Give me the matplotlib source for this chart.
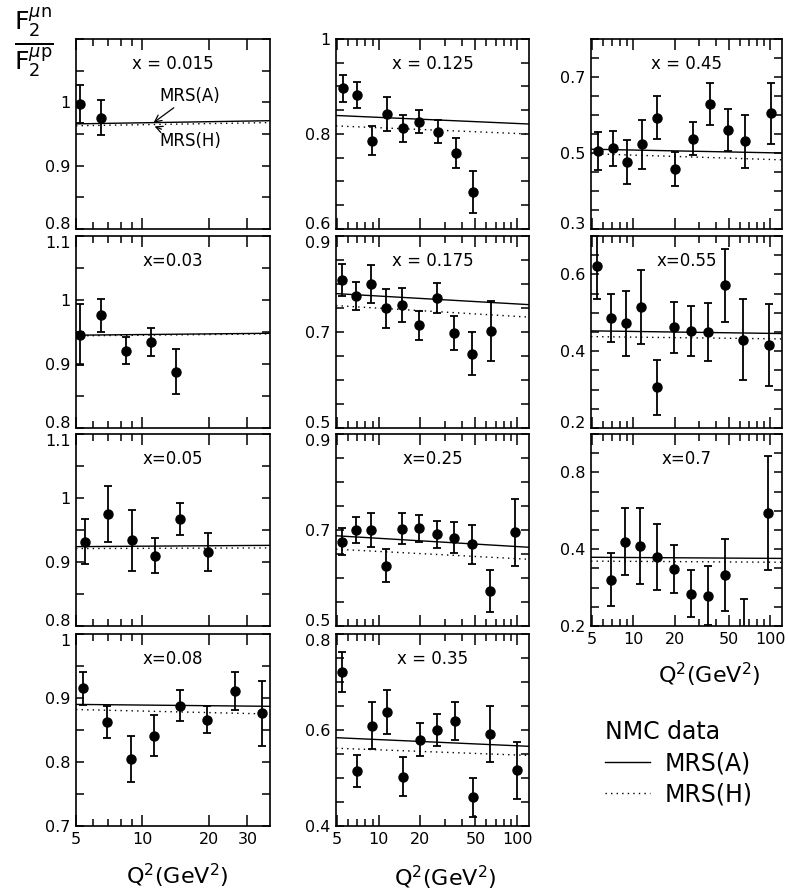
import numpy as np
import matplotlib
matplotlib.use('Agg')
import matplotlib.pyplot as plt
from matplotlib.ticker import NullFormatter, MultipleLocator
from matplotlib.lines import Line2D

# NMC F2n/F2p data, one set of lists per x bin
q2_015 = [5.2, 6.5]
f_015 = [0.997, 0.976]
e_015 = [0.030, 0.027]
a_015 = [0.966, 0.971]
h_015 = [0.963, 0.968]

q2_03 = [5.2, 6.5, 8.4, 10.9, 14.2]
f_03 = [0.946, 0.976, 0.921, 0.934, 0.888]
e_03 = [0.047, 0.026, 0.021, 0.022, 0.035]
a_03 = [0.945, 0.948]
h_03 = [0.944, 0.947]

q2_05 = [5.5, 7.0, 9.0, 11.4, 14.9, 19.8]
f_05 = [0.932, 0.975, 0.934, 0.910, 0.967, 0.916]
e_05 = [0.035, 0.043, 0.048, 0.027, 0.025, 0.030]
a_05 = [0.924, 0.926]
h_05 = [0.921, 0.922]

q2_08 = [5.4, 6.9, 8.9, 11.3, 14.8, 19.6, 26.4, 35.1]
f_08 = [0.915, 0.863, 0.805, 0.841, 0.888, 0.866, 0.911, 0.876]
e_08 = [0.026, 0.025, 0.036, 0.032, 0.024, 0.021, 0.029, 0.051]
a_08 = [0.890, 0.887]
h_08 = [0.882, 0.875]

q2_125 = [5.5, 7.0, 8.9, 11.5, 15.0, 19.5, 27.0, 36.1, 48.2]
f_125 = [0.896, 0.882, 0.786, 0.842, 0.812, 0.826, 0.805, 0.760, 0.678]
e_125 = [0.029, 0.027, 0.031, 0.035, 0.028, 0.024, 0.024, 0.032, 0.044]
a_125 = [0.839, 0.821]
h_125 = [0.817, 0.800]

q2_175 = [5.4, 6.8, 8.8, 11.3, 14.7, 19.5, 26.4, 35.1, 47.4, 64.4]
f_175 = [0.808, 0.775, 0.800, 0.749, 0.756, 0.714, 0.771, 0.698, 0.655, 0.702]
e_175 = [0.033, 0.030, 0.040, 0.041, 0.035, 0.030, 0.032, 0.036, 0.045, 0.063]
a_175 = [0.780, 0.757]
h_175 = [0.755, 0.731]

q2_25 = [5.4, 6.8, 8.8, 11.2, 14.7, 19.4, 26.3, 34.9, 47.1, 63.8, 97.3]
f_25 = [0.676, 0.700, 0.700, 0.626, 0.703, 0.704, 0.691, 0.684, 0.670, 0.573, 0.695]
e_25 = [0.029, 0.027, 0.035, 0.034, 0.032, 0.028, 0.028, 0.032, 0.040, 0.043, 0.069]
a_25 = [0.688, 0.664]
h_25 = [0.660, 0.639]

q2_35 = [5.4, 6.9, 8.9, 11.4, 15.0, 20.0, 26.5, 35.3, 48.4, 64.1, 100.0]
f_35 = [0.721, 0.515, 0.609, 0.637, 0.503, 0.580, 0.600, 0.619, 0.460, 0.591, 0.516]
e_35 = [0.042, 0.033, 0.049, 0.046, 0.040, 0.034, 0.034, 0.040, 0.041, 0.058, 0.060]
a_35 = [0.584, 0.566]
h_35 = [0.562, 0.547]

q2_45 = [5.55, 7.1, 9.0, 11.6, 15.0, 20.1, 27.4, 36.6, 49.0, 65.9, 101.0]
f_45 = [0.506, 0.512, 0.477, 0.523, 0.593, 0.457, 0.538, 0.629, 0.560, 0.531, 0.604]
e_45 = [0.050, 0.045, 0.058, 0.064, 0.056, 0.045, 0.043, 0.054, 0.056, 0.070, 0.080]
a_45 = [0.510, 0.500]
h_45 = [0.498, 0.482]

q2_55 = [5.4, 6.9, 8.9, 11.3, 14.9, 19.7, 26.5, 35.4, 46.7, 63.6, 97.8]
f_55 = [0.621, 0.487, 0.473, 0.516, 0.306, 0.462, 0.453, 0.450, 0.572, 0.430, 0.416]
e_55 = [0.086, 0.063, 0.085, 0.096, 0.071, 0.066, 0.065, 0.075, 0.095, 0.106, 0.107]
a_55 = [0.453, 0.446]
h_55 = [0.438, 0.432]

q2_7 = [6.85, 8.75, 11.2, 14.85, 19.7, 26.3, 35.1, 46.7, 64.5, 97.2]
f_7 = [0.321, 0.420, 0.408, 0.379, 0.349, 0.284, 0.279, 0.332, 0.180, 0.494]
e_7 = [0.069, 0.087, 0.098, 0.086, 0.063, 0.061, 0.077, 0.094, 0.090, 0.148]
a_7 = [0.379, 0.376]
h_7 = [0.369, 0.366]

# y ranges and labelled y ticks
yt_a = [0.8, 0.9, 1.0]
yt_b = [0.8, 0.9, 1.0, 1.1]
yt_c = [0.7, 0.8, 0.9, 1.0]
yl_a = ['0.8', '0.9', '1']
yl_b = ['0.8', '0.9', '1', '1.1']
yl_c = ['0.7', '0.8', '0.9', '1']

# column x axes
xlim_1 = (5, 38)
xlim_2 = (4.9, 122)
xmaj_1 = [5, 10, 20, 30]
xmin_1 = [6, 7, 8, 9]
xmaj_2 = [5, 10, 20, 50, 100]
xmin_2 = [6, 7, 8, 9, 30, 40, 60, 70, 80, 90]

panels = [
    # col, row, label, q2, ratio, err, mrsa, mrsh, ylim, yticks, yticklabels
    (0, 0, 'x = 0.015', q2_015, f_015, e_015, a_015, h_015, (0.8, 1.1), yt_a, yl_a),
    (0, 1, 'x=0.03', q2_03, f_03, e_03, a_03, h_03, (0.8, 1.1), yt_b, yl_b),
    (0, 2, 'x=0.05', q2_05, f_05, e_05, a_05, h_05, (0.8, 1.1), yt_b, yl_b),
    (0, 3, 'x=0.08', q2_08, f_08, e_08, a_08, h_08, (0.7, 1.0), yt_c, yl_c),
    (1, 0, 'x = 0.125', q2_125, f_125, e_125, a_125, h_125, (0.6, 1.0),
     [0.6, 0.8, 1.0], ['0.6', '0.8', '1']),
    (1, 1, 'x = 0.175', q2_175, f_175, e_175, a_175, h_175, (0.5, 0.9),
     [0.5, 0.7, 0.9], ['0.5', '0.7', '0.9']),
    (1, 2, 'x=0.25', q2_25, f_25, e_25, a_25, h_25, (0.5, 0.9),
     [0.5, 0.7, 0.9], ['0.5', '0.7', '0.9']),
    (1, 3, 'x = 0.35', q2_35, f_35, e_35, a_35, h_35, (0.4, 0.8),
     [0.4, 0.6, 0.8], ['0.4', '0.6', '0.8']),
    (2, 0, 'x = 0.45', q2_45, f_45, e_45, a_45, h_45, (0.3, 0.8),
     [0.3, 0.5, 0.7], ['0.3', '0.5', '0.7']),
    (2, 1, 'x=0.55', q2_55, f_55, e_55, a_55, h_55, (0.2, 0.7),
     [0.2, 0.4, 0.6], ['0.2', '0.4', '0.6']),
    (2, 2, 'x=0.7', q2_7, f_7, e_7, a_7, h_7, (0.2, 0.7),
     [0.2, 0.4, 0.6], ['0.2', '0.4', '0.8']),
]

W, H = 788, 892
col_l = [76, 336, 591]
col_r = [270, 529, 782]
row_t = [39, 236, 434, 634]
row_b = [229, 428, 626, 826]

plt.rcParams['font.family'] = 'DejaVu Sans'
plt.rcParams['mathtext.fontset'] = 'dejavusans'

fig = plt.figure(figsize=(W / 100, H / 100), dpi=100)

axes = {}
for col, row, label, q2, r, e, mrsa, mrsh, ylim, yt, yl in panels:
    box = [col_l[col] / W, 1 - row_b[row] / H,
           (col_r[col] - col_l[col]) / W, (row_b[row] - row_t[row]) / H]
    ax = fig.add_axes(box)
    axes[label] = ax
    xl = xlim_1 if col == 0 else xlim_2
    ax.set_xscale('log')
    ax.set_xlim(xl)
    ax.set_ylim(ylim)

    ax.plot(xl, mrsa, color='k', lw=1.0)
    ax.plot(xl, mrsh, color='k', lw=1.0, ls=(0, (1, 3)))
    ax.errorbar(q2, r, yerr=e, fmt='o', color='k', ms=6.5, capsize=3,
                elinewidth=1.3, capthick=1.3)

    ax.text(0.5, 0.87, label, transform=ax.transAxes, ha='center',
            va='center', fontsize=12)

    xmaj = xmaj_1 if col == 0 else xmaj_2
    xmin = xmin_1 if col == 0 else xmin_2
    ax.set_xticks(xmaj)
    ax.set_xticks(xmin, minor=True)
    ax.xaxis.set_minor_formatter(NullFormatter())
    last = (col < 2 and row == 3) or (col == 2 and row == 2)
    if last:
        ax.set_xticklabels([str(v) for v in xmaj])
    else:
        ax.set_xticklabels([])

    ax.set_yticks(yt)
    ax.set_yticklabels(yl)
    ax.yaxis.set_minor_locator(MultipleLocator(0.05))

    ax.tick_params(which='both', direction='in', top=True, right=True,
                   labelsize=11.5, width=1.1, pad=4)
    ax.xaxis.set_tick_params(which='major', length=8)
    ax.xaxis.set_tick_params(which='minor', length=5)
    ax.yaxis.set_tick_params(which='both', length=6)
    for s in ax.spines.values():
        s.set_linewidth(1.2)

    # keep labels at shared panel edges apart
    tl = ax.get_yticklabels()
    if not last and np.isclose(yt[0], ylim[0]):
        tl[0].set_verticalalignment('baseline')
    if row > 0 and np.isclose(yt[-1], ylim[1]):
        tl[-1].set_verticalalignment('top')

# labels pointing at the two curves in the first panel
ax0 = axes['x = 0.015']
ax0.annotate('MRS(A)', xy=(0.40, 0.968), xytext=(0.43, 1.01),
             xycoords=('axes fraction', 'data'),
             textcoords=('axes fraction', 'data'), fontsize=12, va='center',
             arrowprops=dict(arrowstyle='->', lw=0.9, color='k',
                             shrinkA=0, shrinkB=0),
             annotation_clip=False)
ax0.annotate('MRS(H)', xy=(0.405, 0.962), xytext=(0.43, 0.939),
             xycoords=('axes fraction', 'data'),
             textcoords=('axes fraction', 'data'), fontsize=12, va='center',
             arrowprops=dict(arrowstyle='->', lw=0.9, color='k',
                             shrinkA=0, shrinkB=0),
             annotation_clip=False)

# y quantity as a fraction in the top left corner
fig.text(34 / W, 1 - 42 / H,
         r'$\frac{\mathrm{F}_2^{\mu \mathrm{n}}}{\mathrm{F}_2^{\mu \mathrm{p}}}$',
         ha='center', va='center', fontsize=26)

qlab = r'Q$^2$(GeV$^2$)'
fig.text(177 / W, 1 - 876 / H, qlab, ha='center', va='center', fontsize=16)
fig.text(445 / W, 1 - 878 / H, qlab, ha='center', va='center', fontsize=16)
fig.text(709 / W, 1 - 675 / H, qlab, ha='center', va='center', fontsize=16)

handles = [Line2D([], [], color='k', lw=1.0),
           Line2D([], [], color='k', lw=1.0, ls=(0, (1, 3)))]
leg = fig.legend(handles, ['MRS(A)', 'MRS(H)'], title='NMC data',
                 loc='upper left', bbox_to_anchor=(596 / W, 1 - 711 / H),
                 frameon=False, fontsize=17, title_fontsize=17,
                 handlelength=1.9, handletextpad=0.6, labelspacing=0.3,
                 alignment='left', borderaxespad=0)

fig.savefig('out.png', dpi=100)
